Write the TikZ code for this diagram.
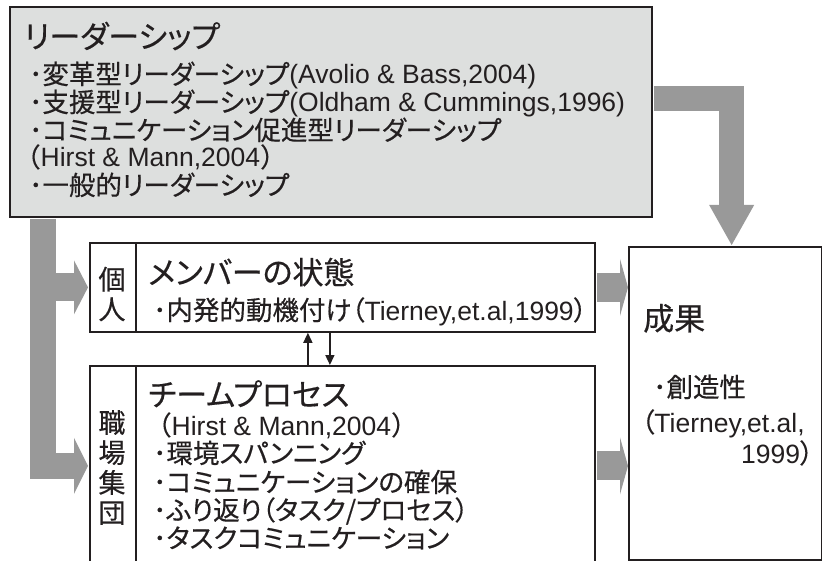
\documentclass[tikz,border=0pt]{standalone}
\usepackage{fontspec}
\setmainfont{Liberation Sans}
\newfontfamily\jp[RawFeature=+palt, FakeBold=0.4]{Noto Sans CJK JP}
\newfontfamily\jpfix[FakeBold=0.4]{Noto Sans CJK JP}
\usetikzlibrary{arrows.meta}
\definecolor{ink}{HTML}{231F20}
\definecolor{leadfill}{HTML}{DDDFDE}
\definecolor{arrowgray}{HTML}{999999}
\begin{document}
\begin{tikzpicture}[x=1pt,y=-1pt,
  box/.style={draw=ink, line width=1.8pt, inner sep=0pt, anchor=north west},
  txt/.style={anchor=base west, inner sep=0pt, text=ink, font=\fontsize{26.5}{28}\selectfont},
  ttl/.style={anchor=base west, inner sep=0pt, text=ink, font=\fontsize{31}{34}\selectfont\jp},
  lab/.style={inner sep=0pt, text=ink, align=center, font=\fontsize{27}{30}\selectfont\jpfix},
  shaft/.style={draw=arrowgray},
  headfill/.style={fill=arrowgray},
  thinarr/.style={draw=ink, line width=1.5pt, -{Triangle[length=10pt,width=9pt]}},
]
\useasboundingbox (0,0) rectangle (822,561);
\clip (0,0) rectangle (822,561);
\fill[white] (0,0) rectangle (822,561);

% boxes
\node[box, fill=leadfill, minimum width=642pt, minimum height=210pt] (lead) at (9,6) {};
\node[box, minimum width=192.5pt, minimum height=313pt] (result) at (628,246) {};
\node[box, minimum width=46pt, minimum height=89pt] (indivlab) at (89,242) {};
\node[box, minimum width=459pt, minimum height=89pt] (indiv) at (135,242) {};
\node[box, minimum width=46pt, minimum height=200pt] (teamlab) at (89,365) {};
\node[box, minimum width=459pt, minimum height=200pt] (team) at (135,365) {};

% left block arrow
\coordinate (lbar) at ([xshift=34pt]lead.south west);
\coordinate (tipA) at ([xshift=-1pt]indivlab.west);
\coordinate (tipB) at ([xshift=-1pt]teamlab.west);
\draw[shaft, line width=26pt] ([yshift=-1pt]lbar) |- ([xshift=-14pt]tipB);
\draw[shaft, line width=28pt] (tipA -| lbar) -- ([xshift=-14pt]tipA);
\fill[headfill] (tipA) -- ++(-14,-27) -- ++(0,54) -- cycle;
\fill[headfill] (tipB) -- ++(-14,-28) -- ++(0,56) -- cycle;

% right block arrows
\path (indiv.east -| result.west) coordinate (tipC);
\path (team.east -| result.west) coordinate (tipD);
\draw[shaft, line width=29pt] ([xshift=1pt]indiv.east) -- ([xshift=-8pt]tipC);
\fill[headfill] (tipC) -- ++(-8,-28.5) -- ++(0,57) -- cycle;
\draw[shaft, line width=29pt] ([xshift=1pt]team.east) -- ([xshift=-8pt]tipD);
\fill[headfill] (tipD) -- ++(-8,-28.5) -- ++(0,57) -- cycle;

% top-right block arrow
\path ([yshift=13pt]lead.east) coordinate (trs);
\path ([xshift=6.5pt,yshift=1pt]result.north) coordinate (tipE);
\draw[shaft, line width=25pt] ([xshift=1pt]trs) -| ([yshift=40pt]tipE);
\fill[headfill] (tipE) -- ++(-22.5,-40) -- ++(45,0) -- cycle;

% thin arrows
\draw[thinarr] ([xshift=-57.5pt]team.north) -- ([xshift=-57.5pt]indiv.south);
\draw[thinarr] ([xshift=-35.5pt]indiv.south) -- ([xshift=-35.5pt]team.north);

% top box text
\node[ttl] (t0) at (24,48) {リーダーシップ};
\node[txt] (t1) at (29,84) {{\jp ･変革型リーダーシップ}(Avolio \& Bass,2004)};
\node[txt] (t2) at (29,112) {{\jp ･支援型リーダーシップ}(Oldham \& Cummings,1996)};
\node[txt] (t3) at (29,140) {{\jp ･コミュニケーション促進型リーダーシップ}};
\node[txt] (t4) at (14,167) {{\jpfix （}Hirst \& Mann,2004{\jpfix ）}};
\node[txt] (t5) at (29,195) {{\jp ･一般的リーダーシップ}};

% member box
\node[ttl] (m0) at (148,284) {メンバーの状態};
\node[txt] (m1) at (153,320) {{\jp ･内発的動機付け（}Tierney,et.al,1999{\jp ）}};

% team box
\node[ttl] (p0) at (148,406) {チームプロセス};
\node[txt] (p1) at (145,435) {{\jpfix （}Hirst \& Mann,2004{\jpfix ）}};
\node[txt] (p2) at (153,463) {{\jp ･環境スパンニング}};
\node[txt] (p3) at (153,492) {{\jp ･コミュニケーションの確保}};
\node[txt] (p4) at (153,520) {{\jp ･ふり返り（タスク/プロセス）}};
\node[txt] (p5) at (153,548) {{\jp ･タスクコミュニケーション}};

% result box
\node[ttl] (r0) at (643,330) {成果};
\node[txt] (r1) at (653,397) {{\jp ･創造性}};
\node[txt] (r2) at (641,432) {{\jp （}Tierney,et.al,};
\node[txt] (r3) at (741,463) {1999{\jp ）}};

% side labels
\node[lab] (l1) at (112,294) {個\\人};
\node[lab] (l2) at (112,467.5) {職\\場\\集\\団};
\end{tikzpicture}
\end{document}
